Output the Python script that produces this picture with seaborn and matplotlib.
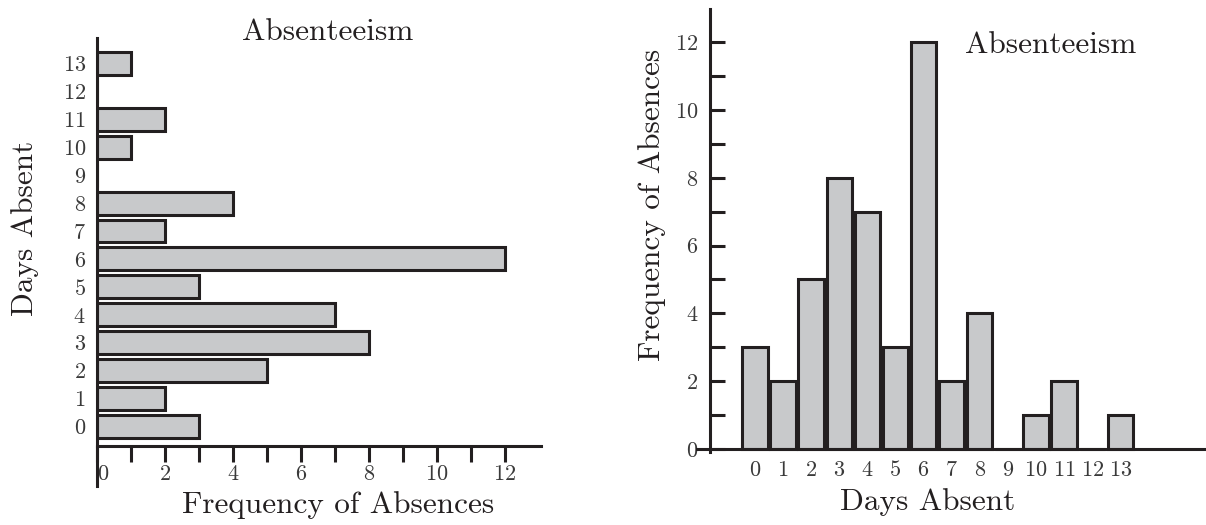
import pandas as pd
import seaborn as sns
import matplotlib.pyplot as plt
from matplotlib.ticker import FixedLocator

# Absenteeism data: days absent and how many times each occurred
days = list(range(14))
frequency = [3, 2, 5, 8, 7, 3, 12, 2, 4, 0, 1, 2, 0, 1]
freq_ticks = [0, 2, 4, 6, 8, 10, 12]
freq_minor = [1, 3, 5, 7, 9, 11]

title = "Absenteeism"
freq_label = "Frequency of Absences"
days_label = "Days Absent"

df = pd.DataFrame({"days": days, "frequency": frequency})

sns.set_style("white")
plt.rcParams['font.family'] = ['cmr10', 'DejaVu Serif']
plt.rcParams['axes.formatter.use_mathtext'] = True

INK = '#231f20'
FILL = '#c8c9cb'
TICK_INK = '#3a3a3a'
LW = 2.2
W, H = 1206, 525

fig = plt.figure(figsize=(W / 100, H / 100), dpi=100)


def px_axes(x0, y0, x1, y1):
    return fig.add_axes([x0 / W, 1 - y1 / H, (x1 - x0) / W, (y1 - y0) / H])


def px_text(x, y, s, **kw):
    fig.text(x / W, 1 - y / H, s, color=INK, fontsize=22.5, **kw)


# left: horizontal bars
ax1 = px_axes(97, 38, 541, 486)
sns.barplot(data=df, x="frequency", y="days", orient="h", native_scale=True,
            width=0.82, color=FILL, saturation=1, edgecolor=INK,
            linewidth=LW, errorbar=None, ax=ax1)
ax1.set_xlim(0, 13.06)
ax1.set_ylim(-2.13, 13.91)
ax1.spines[['top', 'right']].set_visible(False)
ax1.spines['bottom'].set_position(('data', -0.7))
for s in ['left', 'bottom']:
    ax1.spines[s].set_linewidth(LW)
    ax1.spines[s].set_color(INK)
ax1.set_xticks(freq_ticks)
ax1.xaxis.set_minor_locator(FixedLocator(freq_minor))
ax1.tick_params(axis='x', which='both', bottom=True, direction='out', length=11.5,
                width=LW, color=INK, pad=2, labelsize=16, labelcolor=TICK_INK)
ax1.get_xticklabels()[0].set_horizontalalignment('left')
ax1.set_yticks(days)
ax1.tick_params(axis='y', left=False, length=0, pad=8, labelsize=16, labelcolor=TICK_INK)
ax1.set_xlabel("")
ax1.set_ylabel("")

# right: vertical bars
ax2 = px_axes(697, 9, 1206, 452)
sns.barplot(data=df, x="days", y="frequency", native_scale=True,
            width=0.9, color=FILL, saturation=1, edgecolor=INK,
            linewidth=LW, errorbar=None, ax=ax2)
ax2.set_xlim(-2.06, 16.05)
ax2.set_ylim(-0.09, 12.98)
ax2.spines[['top', 'right']].set_visible(False)
ax2.spines['left'].set_position(('data', -1.6))
ax2.spines['bottom'].set_position(('data', 0))
for s in ['left', 'bottom']:
    ax2.spines[s].set_linewidth(LW)
    ax2.spines[s].set_color(INK)
ax2.set_yticks(freq_ticks)
ax2.yaxis.set_minor_locator(FixedLocator(freq_minor))
ax2.tick_params(axis='y', which='both', left=True, direction='in', length=11,
                width=LW, color=INK, pad=8.5, labelsize=16, labelcolor=TICK_INK)
ax2.set_xticks(days)
ax2.tick_params(axis='x', bottom=False, length=0, pad=8, labelsize=16, labelcolor=TICK_INK)
ax2.set_xlabel("")
ax2.set_ylabel("")

# titles and axis labels
px_text(328, 40, title, ha='center', va='baseline')
px_text(338, 513, freq_label, ha='center', va='baseline')
px_text(25, 228, days_label, ha='center', va='center', rotation=90)
px_text(1051, 53, title, ha='center', va='baseline')
px_text(928, 510, days_label, ha='center', va='baseline')
px_text(652, 205, freq_label, ha='center', va='center', rotation=90)

fig.savefig("out.png", dpi=100)
